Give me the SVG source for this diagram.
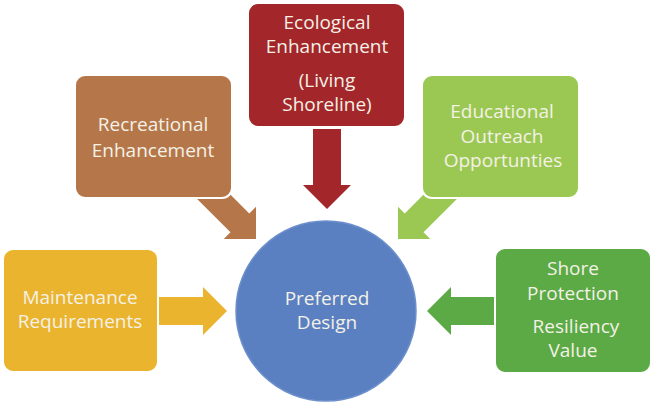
<svg xmlns="http://www.w3.org/2000/svg" width="654" height="406" viewBox="0 0 654 406">
<style>
.box{stroke:#ffffff;stroke-width:2}
.t{font-family:"Open Sans","Liberation Sans",sans-serif;font-size:19px;fill:#F4F1E6;text-anchor:middle}
</style>
<defs>
<path id="arr" d="M0,0 L-24,-24 L-24,-14 L-80,-14 L-80,14 L-24,14 L-24,24 Z"/>
</defs>
<rect width="654" height="406" fill="#ffffff"/>
<g id="connectors">
<use href="#arr" fill="#A3262A" transform="translate(327,209) rotate(90)"/>
<use href="#arr" fill="#B5774A" transform="translate(256,239) rotate(45) scale(0.95,0.95)"/>
<use href="#arr" fill="#9BC853" transform="translate(398,239) rotate(135) scale(0.95,0.95)"/>
<use href="#arr" fill="#EBB42F" transform="translate(227,311)"/>
<use href="#arr" fill="#5BAA45" transform="translate(427,311) rotate(180)"/>
</g>
<g id="ecological">
<rect class="box" x="248" y="3" width="157" height="124" rx="10" fill="#A3262A"/>
<text class="t" x="327" y="29">Ecological</text>
<text class="t" x="327" y="53">Enhancement</text>
<text class="t" x="327" y="87">(Living</text>
<text class="t" x="327" y="111">Shoreline)</text>
</g>
<g id="recreational">
<rect class="box" x="75" y="75" width="157" height="123" rx="10" fill="#B5774A"/>
<text class="t" x="153" y="131">Recreational</text>
<text class="t" x="153" y="157">Enhancement</text>
</g>
<g id="educational">
<rect class="box" x="422" y="75" width="157" height="123" rx="10" fill="#9BC853"/>
<text class="t" x="502" y="118">Educational</text>
<text class="t" x="502" y="143">Outreach</text>
<text class="t" x="503" y="167">Opportunties</text>
</g>
<g id="maintenance">
<rect class="box" x="3" y="249" width="155" height="123" rx="10" fill="#EBB42F"/>
<text class="t" x="80" y="304">Maintenance</text>
<text class="t" x="80" y="328">Requirements</text>
</g>
<g id="shore">
<rect class="box" x="495" y="248" width="156" height="125" rx="10" fill="#5BAA45"/>
<text class="t" x="573" y="275">Shore</text>
<text class="t" x="573" y="300">Protection</text>
<text class="t" x="576" y="333">Resiliency</text>
<text class="t" x="573" y="357">Value</text>
</g>
<g id="preferred">
<circle cx="326" cy="311" r="90" fill="#5A80C2" stroke="#6C8FCB" stroke-width="1.5"/>
<text class="t" x="327" y="305">Preferred</text>
<text class="t" x="327" y="329">Design</text>
</g>
</svg>
